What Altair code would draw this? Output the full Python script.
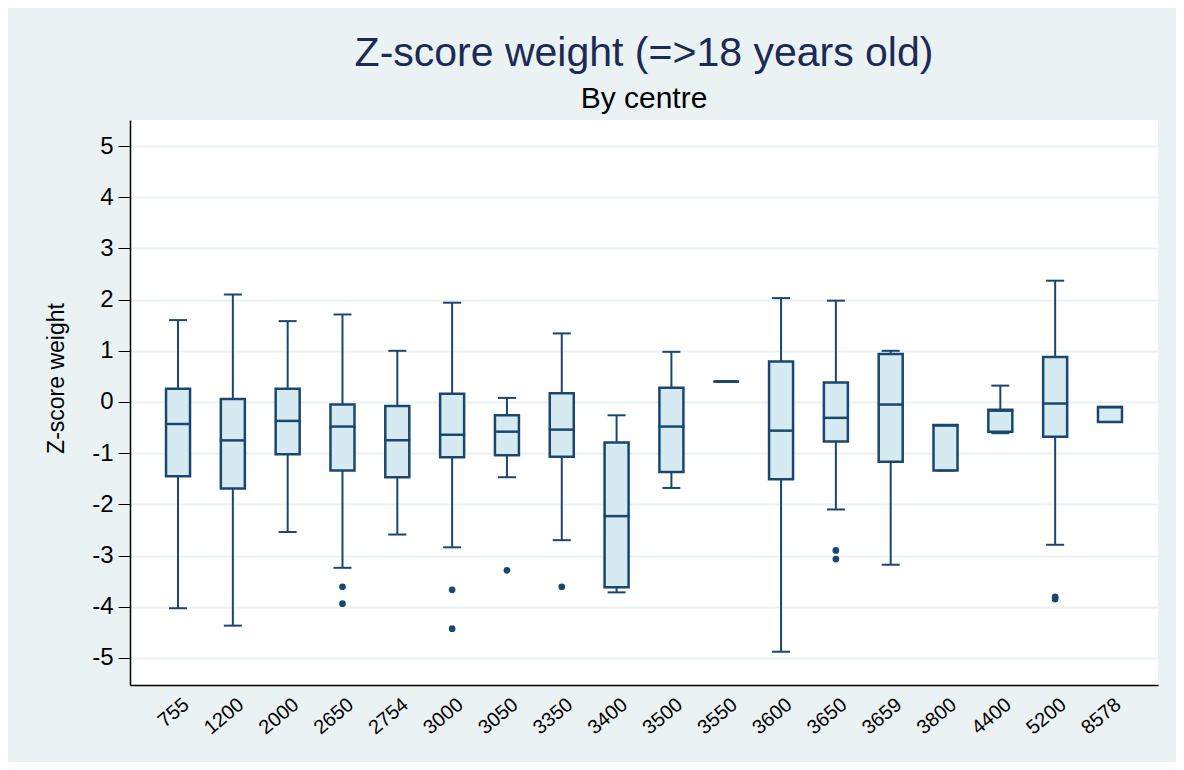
import altair as alt
import pandas as pd

centres = ["755", "1200", "2000", "2650", "2754", "3000", "3050", "3350", "3400",
           "3500", "3550", "3600", "3650", "3659", "3800", "4400", "5200", "8578"]
lower  = [-4.03, -4.37, -2.54, -3.24, -2.59, -2.84, -1.47, -2.70, -3.72,
          -1.68, 0.40, -4.88, -2.10, -3.18, -1.34, -0.61, -2.79, -0.39]
q1     = [-1.45, -1.69, -1.02, -1.34, -1.47, -1.08, -1.04, -1.07, -3.62,
          -1.37, 0.40, -1.51, -0.77, -1.17, -1.34, -0.58, -0.68, -0.39]
median = [-0.43, -0.75, -0.37, -0.48, -0.75, -0.64, -0.58, -0.54, -2.23,
          -0.48, 0.40, -0.56, -0.31, -0.05, -0.46, -0.17, -0.03, -0.10]
q3     = [0.26, 0.06, 0.26, -0.05, -0.08, 0.16, -0.26, 0.17, -0.79,
          0.28, 0.40, 0.79, 0.38, 0.94, -0.45, -0.15, 0.88, -0.10]
upper  = [1.60, 2.10, 1.58, 1.71, 1.00, 1.94, 0.08, 1.34, -0.26,
          0.98, 0.40, 2.03, 1.98, 1.00, -0.45, 0.32, 2.37, -0.10]

out_centre = ["2650", "2650", "3000", "3000", "3050", "3350", "3650", "3650", "5200", "5200"]
out_value  = [-3.61, -3.94, -3.67, -4.43, -3.29, -3.61, -2.90, -3.07, -3.81, -3.85]

y_ticks = [-5, -4, -3, -2, -1, 0, 1, 2, 3, 4, 5]

NAVY = "#1a476f"
FILL = "#d6eaf2"
BG = "#eaf2f3"
FONT = "Liberation Sans"

stats = pd.DataFrame({"centre": centres, "lower": lower, "q1": q1,
                      "median": median, "q3": q3, "upper": upper})
outs = pd.DataFrame({"centre": out_centre, "value": out_value})

xenc = alt.X("centre:N", sort=centres, title=None,
             scale=alt.Scale(paddingInner=0, paddingOuter=0.376),
             axis=alt.Axis(labelAngle=-40, ticks=False, grid=False,
                           labelFontSize=20, labelFont=FONT, labelColor="black",
                           labelPadding=9, labelOffset=2,
                           domainColor="black", domainWidth=1.5))
yscale = alt.Scale(domain=[-5.53, 5.51], nice=False, zero=False)
yaxis = alt.Axis(values=y_ticks, title="Z-score weight", grid=True,
                 labelExpr="'' + datum.value",
                 gridColor=BG, gridWidth=2, tickColor="black", tickSize=12,
                 tickWidth=1, labelFontSize=24, labelFont=FONT, labelColor="black",
                 labelPadding=5, domainColor="black", domainWidth=1.5,
                 titleFontSize=23, titleFont=FONT, titleColor="black",
                 titleFontWeight="normal", titleX=-62, titleY=258,
                 titleBaseline="bottom", titleAlign="center", titleAngle=270)

base = alt.Chart(stats)

whisker = base.mark_rule(color=NAVY, strokeWidth=2).encode(
    x=xenc,
    y=alt.Y("lower:Q", scale=yscale, axis=yaxis),
    y2="upper:Q")

box = base.mark_bar(size=24, fill=FILL, stroke=NAVY, strokeWidth=2.5).encode(
    x=xenc, y=alt.Y("q1:Q", scale=yscale), y2="q3:Q")

med = base.mark_tick(size=26, thickness=2.5, color=NAVY, orient="horizontal", opacity=1).encode(
    x=xenc, y=alt.Y("median:Q", scale=yscale))

cap_lo = base.mark_tick(size=18, thickness=2, color=NAVY, orient="horizontal", opacity=1).encode(
    x=xenc, y=alt.Y("lower:Q", scale=yscale))
cap_hi = base.mark_tick(size=18, thickness=2, color=NAVY, orient="horizontal", opacity=1).encode(
    x=xenc, y=alt.Y("upper:Q", scale=yscale))

pts = alt.Chart(outs).mark_circle(size=45, color=NAVY, opacity=1).encode(
    x=xenc, y=alt.Y("value:Q", scale=yscale))

chart = alt.layer(whisker, box, med, cap_lo, cap_hi, pts).properties(
    width=1028, height=565,
    padding={"left": 122, "top": 112, "right": 18, "bottom": 77},
    autosize=alt.AutoSizeParams(type="none"),
    title=alt.TitleParams(text="Z-score weight (=>18 years old)", subtitle="By centre",
                          font=FONT, fontSize=41, fontWeight="normal", color="#1c2a55",
                          subtitleFont=FONT, subtitleFontSize=30, subtitleColor="black",
                          anchor="middle", offset=5, subtitlePadding=9)
).configure(background=BG).configure_view(fill="white", stroke=None)

chart.save("out.html", embed_options={"renderer": "svg", "actions": False})
